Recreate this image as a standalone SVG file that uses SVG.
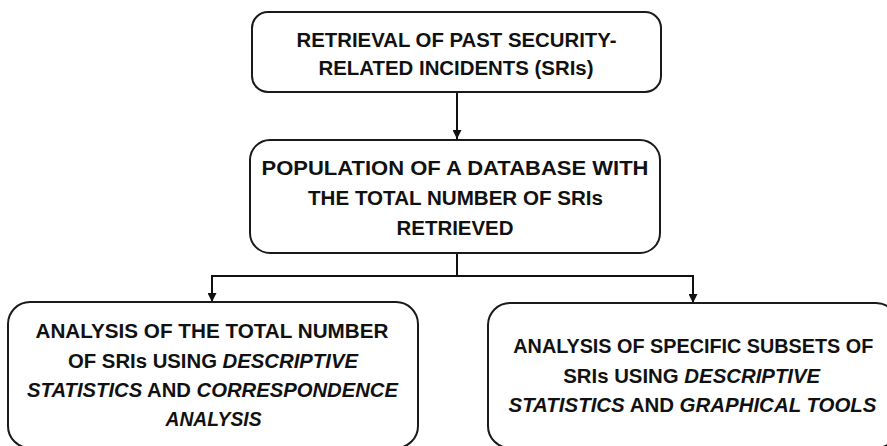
<svg xmlns="http://www.w3.org/2000/svg" width="887" height="446" viewBox="0 0 887 446">
<style>
.box{fill:#fff;stroke:#1a1a1a;stroke-width:2}
.t{font-family:"Liberation Sans",Arial,sans-serif;font-weight:bold;font-size:20px;fill:#111;text-anchor:middle}
.i{font-style:italic}
.c{fill:none;stroke:#111;stroke-width:2}
</style>
<defs>
<marker id="ah" viewBox="0 0 10 10" refX="10" refY="5" markerWidth="4.5" markerHeight="4.5" orient="auto" markerUnits="strokeWidth">
<path d="M0,0 L10,5 L0,10 z" fill="#111"/>
</marker>
</defs>
<rect width="887" height="446" fill="#fff"/>
<g id="connectors">
<path class="c" d="M457,92 V139" marker-end="url(#ah)"/>
<path class="c" d="M457,253 V276"/>
<path class="c" d="M212,276 H693"/>
<path class="c" d="M212,275 V302" marker-end="url(#ah)"/>
<path class="c" d="M693,275 V303" marker-end="url(#ah)"/>
</g>
<g id="n1">
<rect class="box" x="252" y="12" width="409" height="80" rx="16"/>
<text class="t" x="456.5" y="47" textLength="320" lengthAdjust="spacingAndGlyphs">RETRIEVAL OF PAST SECURITY-</text>
<text class="t" x="456" y="75" textLength="275" lengthAdjust="spacingAndGlyphs">RELATED INCIDENTS (SRIs)</text>
</g>
<g id="n2">
<rect class="box" x="250" y="140" width="410" height="113" rx="20"/>
<text class="t" x="455" y="175" textLength="387" lengthAdjust="spacingAndGlyphs">POPULATION OF A DATABASE WITH</text>
<text class="t" x="455.5" y="205" textLength="295" lengthAdjust="spacingAndGlyphs">THE TOTAL NUMBER OF SRIs</text>
<text class="t" x="455" y="235" textLength="117" lengthAdjust="spacingAndGlyphs">RETRIEVED</text>
</g>
<g id="n3">
<rect class="box" x="8" y="302" width="410" height="146" rx="22"/>
<text class="t" x="212" y="338" textLength="353" lengthAdjust="spacingAndGlyphs">ANALYSIS OF THE TOTAL NUMBER</text>
<text class="t" x="213" y="367.5" textLength="290" lengthAdjust="spacingAndGlyphs">OF SRIs USING <tspan class="i">DESCRIPTIVE</tspan></text>
<text class="t" x="212.5" y="396.5" textLength="371" lengthAdjust="spacingAndGlyphs"><tspan class="i">STATISTICS</tspan> AND <tspan class="i">CORRESPONDENCE</tspan></text>
<text class="t i" x="213.5" y="426" textLength="96" lengthAdjust="spacingAndGlyphs">ANALYSIS</text>
</g>
<g id="n4">
<rect class="box" x="488" y="303" width="410" height="145" rx="22"/>
<text class="t" x="693.3" y="352.7" textLength="360" lengthAdjust="spacingAndGlyphs">ANALYSIS OF SPECIFIC SUBSETS OF</text>
<text class="t" x="691.7" y="382.5" textLength="257" lengthAdjust="spacingAndGlyphs">SRIs USING <tspan class="i">DESCRIPTIVE</tspan></text>
<text class="t" x="692.5" y="411.7" textLength="368" lengthAdjust="spacingAndGlyphs"><tspan class="i">STATISTICS</tspan> AND <tspan class="i">GRAPHICAL TOOLS</tspan></text>
</g>
</svg>
